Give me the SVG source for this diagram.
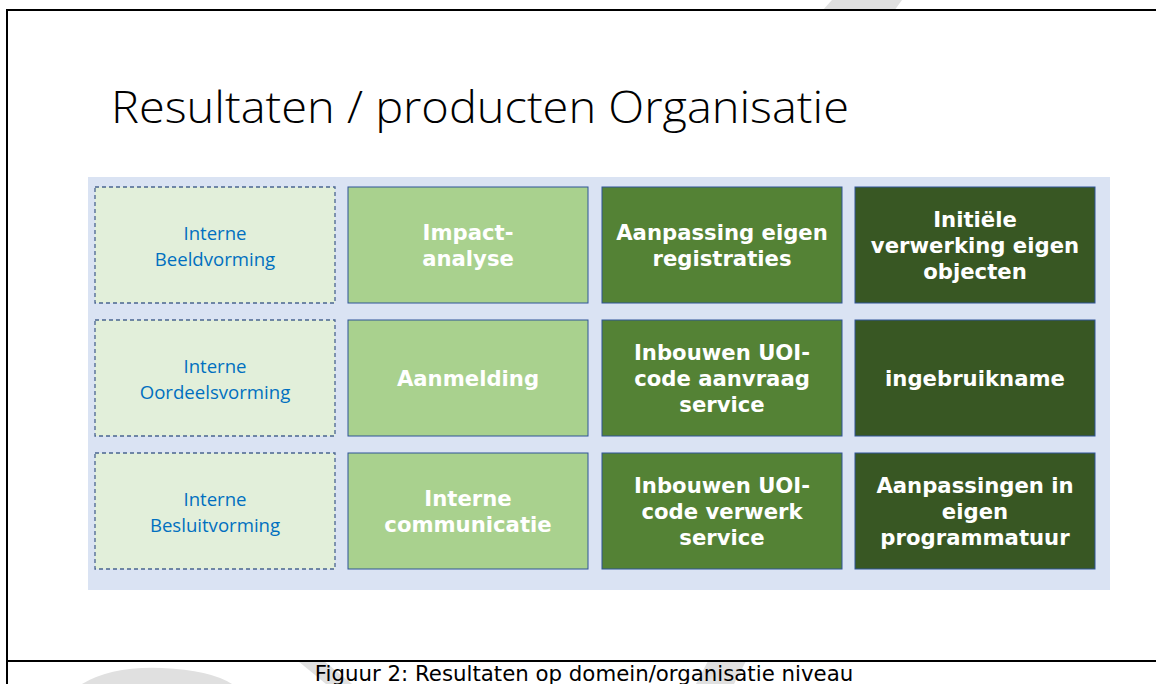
<svg xmlns="http://www.w3.org/2000/svg" width="1156" height="684" viewBox="0 0 1156 684">
  <style>
    .panel{fill:#DAE3F3}
    .c1{fill:#E2EFDA;stroke:#4A6590;stroke-width:1.3;stroke-dasharray:4 3}
    .c2{fill:#A9D18E;stroke:#2F5597;stroke-width:1}
    .c3{fill:#548235;stroke:#2F5597;stroke-width:1}
    .c4{fill:#385723;stroke:#2F5597;stroke-width:1}
    .t1{font-family:"Open Sans","Noto Sans","DejaVu Sans",sans-serif;font-size:18.6px;fill:#0070C0;text-anchor:middle}
    .tb{font-family:"DejaVu Sans","Verdana",sans-serif;font-weight:bold;font-size:21.2px;fill:#FFFFFF;text-anchor:middle}
    .wm{fill:#E0E0E0}
  </style>
  <rect width="1156" height="684" fill="#FFFFFF"/>
  <g id="watermark">
    <polygon class="wm" points="832,0 902,0 894,11 822,11"/>
    <path class="wm" d="M82 684 Q112 666 162 668 Q210 670 232 684 Z"/>
    <polygon class="wm" points="298,661 324,661 352,684 326,684"/>
    <polygon class="wm" points="708,661 746,661 734,684 696,684"/>
  </g>
  <g id="frame">
    <rect x="7" y="10" width="1160" height="651" fill="#FFFFFF"/>
    <line x1="7" y1="10" x2="1156" y2="10" stroke="#000" stroke-width="2"/>
    <line x1="7" y1="9" x2="7" y2="684" stroke="#000" stroke-width="2"/>
    <line x1="6" y1="661" x2="1156" y2="661" stroke="#000" stroke-width="2"/>
  </g>
  <text id="title" x="111" y="123" font-family="'Open Sans','Noto Sans',sans-serif" font-weight="300" font-size="45" fill="#000" textLength="738" lengthAdjust="spacingAndGlyphs">Resultaten / producten Organisatie</text>
  <rect class="panel" x="88" y="177" width="1022" height="413"/>
  <g id="n-beeldvorming">
    <rect class="c1" x="95" y="187" width="240" height="116"/>
    <text class="t1" x="215" y="240">Interne</text>
    <text class="t1" x="215" y="266">Beeldvorming</text>
  </g>
  <g id="n-impact">
    <rect class="c2" x="348" y="187" width="240" height="116"/>
    <text class="tb" x="468" y="240">Impact-</text>
    <text class="tb" x="468" y="266">analyse</text>
  </g>
  <g id="n-aanpassing">
    <rect class="c3" x="602" y="187" width="240" height="116"/>
    <text class="tb" x="722" y="240">Aanpassing eigen</text>
    <text class="tb" x="722" y="266">registraties</text>
  </g>
  <g id="n-initiele">
    <rect class="c4" x="855" y="187" width="240" height="116"/>
    <text class="tb" x="975" y="227">Initiële</text>
    <text class="tb" x="975" y="253">verwerking eigen</text>
    <text class="tb" x="975" y="279">objecten</text>
  </g>
  <g id="n-oordeelsvorming">
    <rect class="c1" x="95" y="320" width="240" height="116"/>
    <text class="t1" x="215" y="373">Interne</text>
    <text class="t1" x="215" y="399">Oordeelsvorming</text>
  </g>
  <g id="n-aanmelding">
    <rect class="c2" x="348" y="320" width="240" height="116"/>
    <text class="tb" x="468" y="386">Aanmelding</text>
  </g>
  <g id="n-aanvraag">
    <rect class="c3" x="602" y="320" width="240" height="116"/>
    <text class="tb" x="722" y="360">Inbouwen UOI-</text>
    <text class="tb" x="722" y="386">code aanvraag</text>
    <text class="tb" x="722" y="412">service</text>
  </g>
  <g id="n-ingebruikname">
    <rect class="c4" x="855" y="320" width="240" height="116"/>
    <text class="tb" x="975" y="386">ingebruikname</text>
  </g>
  <g id="n-besluitvorming">
    <rect class="c1" x="95" y="453" width="240" height="116"/>
    <text class="t1" x="215" y="506">Interne</text>
    <text class="t1" x="215" y="532">Besluitvorming</text>
  </g>
  <g id="n-communicatie">
    <rect class="c2" x="348" y="453" width="240" height="116"/>
    <text class="tb" x="468" y="506">Interne</text>
    <text class="tb" x="468" y="532">communicatie</text>
  </g>
  <g id="n-verwerk">
    <rect class="c3" x="602" y="453" width="240" height="116"/>
    <text class="tb" x="722" y="493">Inbouwen UOI-</text>
    <text class="tb" x="722" y="519">code verwerk</text>
    <text class="tb" x="722" y="545">service</text>
  </g>
  <g id="n-programmatuur">
    <rect class="c4" x="855" y="453" width="240" height="116"/>
    <text class="tb" x="975" y="493">Aanpassingen in</text>
    <text class="tb" x="975" y="519">eigen</text>
    <text class="tb" x="975" y="545">programmatuur</text>
  </g>
  <g id="connectors"/>
  <text id="caption" x="584" y="681" font-family="'DejaVu Sans',Verdana,sans-serif" font-size="21.3" fill="#000" text-anchor="middle">Figuur 2: Resultaten op domein/organisatie niveau</text>
</svg>
